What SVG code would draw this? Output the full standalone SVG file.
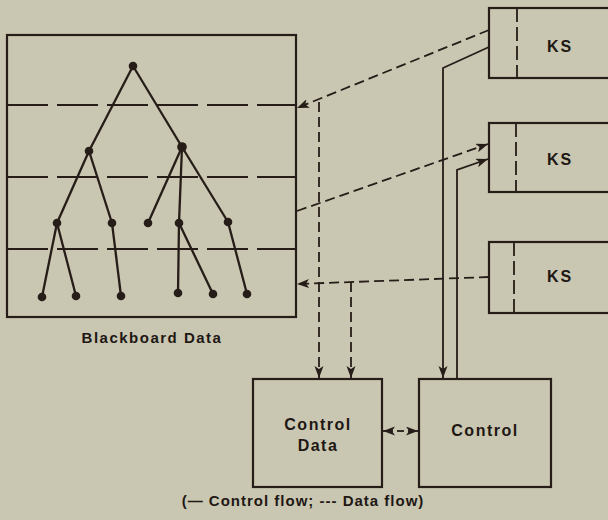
<svg xmlns="http://www.w3.org/2000/svg" width="608" height="520" viewBox="0 0 608 520">
  <style>
    .bg { fill: #c9c7b1; }
    .box { fill: none; stroke: #261c18; stroke-width: 2.2; }
    .level { fill: none; stroke: #261c18; stroke-width: 2; stroke-dasharray: 41 9; }
    .div { fill: none; stroke: #261c18; stroke-width: 1.8; stroke-dasharray: 14 5; }
    .edge { fill: none; stroke: #261c18; stroke-width: 2.3; }
    .dot { fill: #261c18; }
    .ctl { fill: none; stroke: #261c18; stroke-width: 1.8; }
    .dat { fill: none; stroke: #261c18; stroke-width: 1.8; stroke-dasharray: 10 5; }
    .lbl { font-family: "Liberation Sans", Arial, sans-serif; font-weight: bold; fill: #1e1714; text-anchor: middle; }
  </style>
  <defs>
    <marker id="arrow" markerUnits="userSpaceOnUse" markerWidth="13" markerHeight="10" refX="12" refY="4.5" orient="auto">
      <path d="M0,0 L12,4.5 L0,9 L3,4.5 z" fill="#261c18"/>
    </marker>
  </defs>

  <rect class="bg" x="0" y="0" width="608" height="520"/>

  <!-- blackboard: levels and hypothesis tree -->
  <g id="blackboard">
    <rect class="box" x="7" y="35" width="289" height="282"/>
    <line class="level" x1="7" y1="105" x2="296" y2="105"/>
    <line class="level" x1="7" y1="177" x2="296" y2="177"/>
    <line class="level" x1="7" y1="249" x2="296" y2="249"/>
    <g class="edge">
      <line x1="133" y1="66" x2="89" y2="151"/>
      <line x1="133" y1="66" x2="182" y2="147"/>
      <line x1="89" y1="151" x2="57" y2="223"/>
      <line x1="89" y1="151" x2="112" y2="223"/>
      <line x1="182" y1="147" x2="148" y2="223"/>
      <line x1="182" y1="147" x2="179" y2="223"/>
      <line x1="182" y1="147" x2="228" y2="222"/>
      <line x1="57" y1="223" x2="42" y2="297"/>
      <line x1="57" y1="223" x2="76" y2="296"/>
      <line x1="112" y1="223" x2="121" y2="296"/>
      <line x1="179" y1="223" x2="178" y2="293"/>
      <line x1="179" y1="223" x2="213" y2="294"/>
      <line x1="228" y1="222" x2="247" y2="294"/>
    </g>
    <g class="dot">
      <circle cx="133" cy="66" r="4.3"/>
      <circle cx="89" cy="151" r="4.3"/>
      <circle cx="182" cy="147" r="4.8"/>
      <circle cx="57" cy="223" r="4.3"/>
      <circle cx="112" cy="223" r="4.3"/>
      <circle cx="148" cy="223" r="4.3"/>
      <circle cx="179" cy="223" r="4.3"/>
      <circle cx="228" cy="222" r="4.3"/>
      <circle cx="42" cy="297" r="4.3"/>
      <circle cx="76" cy="296" r="4.3"/>
      <circle cx="121" cy="296" r="4.3"/>
      <circle cx="178" cy="293" r="4.3"/>
      <circle cx="213" cy="294" r="4.3"/>
      <circle cx="247" cy="294" r="4.3"/>
    </g>
    <text class="lbl" x="152" y="343" font-size="15" letter-spacing="1.5">Blackboard Data</text>
  </g>

  <!-- knowledge sources -->
  <g id="ks1">
    <rect class="box" x="489" y="8" width="130" height="70"/>
    <line class="div" x1="517" y1="8" x2="517" y2="78"/>
    <text class="lbl" x="560" y="52" font-size="16" letter-spacing="2">KS</text>
  </g>
  <g id="ks2">
    <rect class="box" x="489" y="123" width="130" height="69"/>
    <line class="div" x1="516" y1="123" x2="516" y2="192"/>
    <text class="lbl" x="560" y="165" font-size="16" letter-spacing="2">KS</text>
  </g>
  <g id="ks3">
    <rect class="box" x="489" y="242" width="130" height="71"/>
    <line class="div" x1="514" y1="242" x2="514" y2="313"/>
    <text class="lbl" x="560" y="282" font-size="16" letter-spacing="2">KS</text>
  </g>

  <!-- control data and control -->
  <g id="control-data">
    <rect class="box" x="253" y="379" width="129" height="108"/>
    <text class="lbl" x="318" y="430" font-size="16" letter-spacing="1.5">Control</text>
    <text class="lbl" x="318" y="451" font-size="16" letter-spacing="1.5">Data</text>
  </g>
  <g id="control">
    <rect class="box" x="419" y="379" width="132" height="108"/>
    <text class="lbl" x="485" y="436" font-size="16" letter-spacing="1.5">Control</text>
  </g>

  <!-- connectors -->
  <g id="connectors">
    <!-- data flow -->
    <line class="dat" x1="489" y1="30" x2="297" y2="108" marker-end="url(#arrow)"/>
    <line class="dat" x1="297" y1="211" x2="488" y2="144" marker-end="url(#arrow)"/>
    <line class="dat" x1="489" y1="277" x2="297" y2="284" marker-end="url(#arrow)"/>
    <line class="dat" x1="319" y1="102" x2="319" y2="378" marker-end="url(#arrow)"/>
    <line class="dat" x1="351" y1="282" x2="351" y2="378" marker-end="url(#arrow)"/>
    <!-- two-way data link between control data and control -->
    <line x1="393" y1="431" x2="383" y2="431" stroke="#261c18" stroke-width="1.8" marker-end="url(#arrow)"/>
    <line x1="397" y1="431" x2="404" y2="431" stroke="#261c18" stroke-width="1.8"/>
    <line x1="408" y1="431" x2="418" y2="431" stroke="#261c18" stroke-width="1.8" marker-end="url(#arrow)"/>
    <!-- control flow -->
    <polyline class="ctl" points="489,47 443,68 443,378" marker-end="url(#arrow)"/>
    <polyline class="ctl" points="457,379 457,170 488,159" marker-end="url(#arrow)"/>
  </g>

  <text class="lbl" x="303" y="506" font-size="15" letter-spacing="1">(— Control flow; --- Data flow)</text>
</svg>
